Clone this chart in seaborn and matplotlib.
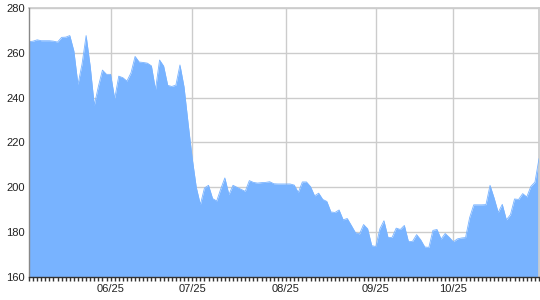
import matplotlib
matplotlib.use("Agg")
import matplotlib.pyplot as plt
import seaborn as sns
import pandas as pd
import numpy as np

# closing prices, one per trading day
prices = [
    265.0, 265.2, 265.8, 265.4, 265.4, 265.4, 265.2, 264.8, 266.9, 267.0,
    267.7, 260.8, 245.9, 255.0, 267.7, 254.0, 236.6, 245.0, 252.3, 250.4,
    250.4, 239.6, 249.6, 248.9, 247.4, 251.1, 258.4, 255.9, 255.7, 255.4,
    254.2, 243.6, 256.8, 254.1, 245.5, 245.0, 245.6, 254.6, 244.8, 228.5,
    213.0, 200.0, 192.3, 199.7, 200.9, 195.0, 193.9, 199.3, 204.2, 196.8,
    200.9, 200.0, 199.1, 198.2, 203.0, 202.2, 201.9, 202.1, 202.2, 202.5,
    201.6, 201.5, 201.5, 201.5, 201.5, 201.0, 197.7, 202.4, 202.4, 200.3,
    196.2, 197.4, 194.6, 193.7, 189.0, 188.8, 189.9, 185.5, 186.1, 183.0,
    179.8, 179.2, 183.4, 181.5, 174.0, 173.6, 181.5, 185.1, 177.6, 177.7,
    181.8, 181.2, 183.0, 175.8, 175.9, 178.9, 176.6, 173.4, 173.2, 180.8,
    181.2, 176.9, 179.4, 177.7, 175.7, 177.0, 177.4, 177.6, 186.5, 192.2,
    192.2, 192.2, 192.3, 200.9, 195.2, 188.8, 192.4, 185.5, 187.8, 194.8,
    194.6, 197.2, 195.7, 200.4, 202.3, 212.8,
]
tick_positions = [20, 40, 63, 85, 104]
tick_labels = ["06/25", "07/25", "08/25", "09/25", "10/25"]
y_ticks = [160, 180, 200, 220, 240, 260, 280]

df = pd.DataFrame({"day": np.arange(len(prices)), "price": prices})

sns.set_theme(style="white")
plt.rcParams["font.family"] = ["Liberation Sans", "DejaVu Sans"]

fig = plt.figure(figsize=(5.4, 3.0), dpi=100)
ax = fig.add_axes([29 / 540, 23 / 300, 510 / 540, 269 / 300])

fill_color = "#78b3ff"
ax.fill_between(df["day"], df["price"], 160, color=fill_color, linewidth=0, zorder=2)
sns.lineplot(data=df, x="day", y="price", ax=ax, color=fill_color, linewidth=0.6, zorder=3)

ax.set_xlim(0, len(prices) - 1)
ax.set_ylim(160, 280)

ax.set_yticks(y_ticks)
ax.set_yticklabels([str(v) for v in y_ticks])
ax.set_xticks(tick_positions)
ax.set_xticklabels(tick_labels)
ax.set_xticks(np.arange(len(prices)), minor=True)

ax.grid(True, which="major", color="#cccccc", linewidth=1.0, zorder=0)
ax.set_axisbelow(True)

ax.tick_params(axis="y", which="both", length=0, pad=3, labelsize=8, labelcolor="#222222")
ax.tick_params(axis="x", which="major", bottom=True, length=3, width=1, color="#333333", pad=2,
               labelsize=8, labelcolor="#222222", direction="out")
ax.tick_params(axis="x", which="minor", bottom=True, length=3, width=1, color="#333333",
               direction="out")

ax.spines["left"].set_color("#888888")
ax.spines["left"].set_linewidth(1.0)
ax.spines["bottom"].set_color("#333333")
ax.spines["bottom"].set_linewidth(1.0)
ax.spines["top"].set_color("#cccccc")
ax.spines["right"].set_color("#cccccc")
ax.spines["left"].set_zorder(5)
ax.spines["bottom"].set_zorder(5)

ax.set_xlabel("")
ax.set_ylabel("")

fig.savefig("out.png", dpi=100)
